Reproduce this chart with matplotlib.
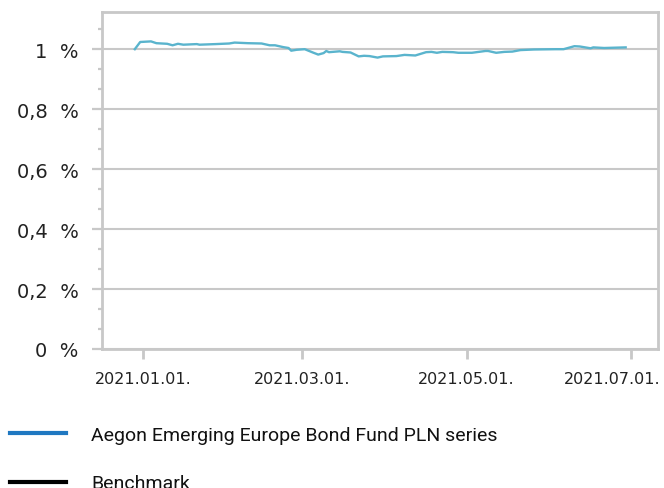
import matplotlib
matplotlib.use('Agg')
import matplotlib.pyplot as plt
import matplotlib.dates as mdates
import matplotlib.transforms as mtransforms
from matplotlib.lines import Line2D
from matplotlib.ticker import FixedLocator, FuncFormatter
import pandas as pd

GRAY = '#c8c8c8'
FUND_COLOR = '#5ab4cd'

DATES = [
    '2020-12-29', '2020-12-31', '2021-01-04', '2021-01-06', '2021-01-10',
    '2021-01-12', '2021-01-14', '2021-01-16', '2021-01-21', '2021-01-22',
    '2021-01-28', '2021-02-02', '2021-02-04', '2021-02-09', '2021-02-14',
    '2021-02-17', '2021-02-19', '2021-02-22', '2021-02-24', '2021-02-25',
    '2021-02-27', '2021-03-02', '2021-03-05', '2021-03-07', '2021-03-09',
    '2021-03-10', '2021-03-11', '2021-03-15', '2021-03-16', '2021-03-19',
    '2021-03-22', '2021-03-24', '2021-03-26', '2021-03-29', '2021-03-31',
    '2021-04-05', '2021-04-08', '2021-04-12', '2021-04-16', '2021-04-18',
    '2021-04-20', '2021-04-22', '2021-04-26', '2021-04-28', '2021-05-03',
    '2021-05-08', '2021-05-09', '2021-05-12', '2021-05-15', '2021-05-18',
    '2021-05-21', '2021-05-26', '2021-06-03', '2021-06-06', '2021-06-10',
    '2021-06-12', '2021-06-16', '2021-06-17', '2021-06-21', '2021-06-29',
]

FUND_VALUES = [
    1.000, 1.024, 1.026, 1.020, 1.018,
    1.013, 1.018, 1.015, 1.017, 1.015,
    1.017, 1.019, 1.022, 1.020, 1.019,
    1.013, 1.013, 1.007, 1.004, 0.995,
    0.998, 1.000, 0.989, 0.982, 0.987,
    0.994, 0.990, 0.993, 0.991, 0.989,
    0.976, 0.978, 0.977, 0.972, 0.976,
    0.977, 0.981, 0.979, 0.990, 0.991,
    0.988, 0.991, 0.990, 0.988, 0.988,
    0.994, 0.994, 0.988, 0.991, 0.992,
    0.997, 0.999, 1.000, 1.000, 1.010,
    1.009, 1.003, 1.006, 1.004, 1.006,
]

X_TICKS = ['2021-01-01', '2021-03-01', '2021-05-01', '2021-07-01']
Y_TICKS = [0, 0.2, 0.4, 0.6, 0.8, 1.0]

LEGEND_LABELS = ['Aegon Emerging Europe Bond Fund PLN series', 'Benchmark']
LEGEND_COLORS = ['#1f78c1', '#000000']


def y_label(v, pos):
    return '{:g}'.format(round(v, 2)).replace('.', ',') + '  %'


fig = plt.figure(figsize=(6.64, 4.89), dpi=100)
ax = fig.add_axes([0.1536, 0.2843, 0.8374, 0.6897])

dates = pd.to_datetime(DATES)
ax.plot(dates, FUND_VALUES, color=FUND_COLOR, linewidth=1.7)

ax.set_ylim(0, 1.125)
ax.set_xlim(pd.Timestamp('2020-12-16 20:00'), pd.Timestamp('2021-07-11'))

ax.yaxis.set_major_locator(FixedLocator(Y_TICKS))
ax.yaxis.set_minor_locator(FixedLocator([i / 15 for i in range(17)]))
ax.yaxis.set_major_formatter(FuncFormatter(y_label))
ax.xaxis.set_major_locator(FixedLocator(mdates.date2num(pd.to_datetime(X_TICKS))))
ax.xaxis.set_major_formatter(mdates.DateFormatter('%Y.%m.%d.'))
ax.xaxis.set_minor_locator(FixedLocator([]))

ax.grid(axis='y', which='major', color=GRAY, linewidth=1.5)
ax.set_axisbelow(True)
for s in ax.spines.values():
    s.set_color(GRAY)
    s.set_linewidth(2.0)

ax.tick_params(axis='y', which='major', length=7, width=1.6, color=GRAY,
               pad=10, labelsize=14, labelcolor='#222222')
ax.tick_params(axis='y', which='minor', length=3, width=1.6, color=GRAY)
ax.tick_params(axis='x', which='major', length=7, width=2.0, color=GRAY,
               pad=9, labelsize=11.5, labelcolor='#222222')

# last date label is pushed left so it stays inside the picture
last = ax.get_xticklabels()[-1]
last.set_transform(last.get_transform() +
                   mtransforms.ScaledTranslation(-0.19, 0, fig.dpi_scale_trans))

handles = [Line2D([], [], color=c, linewidth=3) for c in LEGEND_COLORS]
fig.legend(handles, LEGEND_LABELS, loc='upper left',
           bbox_to_anchor=(10 / 664, 1 - 427 / 489),
           frameon=False, handlelength=2.9, handletextpad=1.28, labelspacing=1.56,
           prop={'family': 'Roboto', 'size': 14}, labelcolor='#111111',
           borderaxespad=0, borderpad=0)

fig.savefig('out.png', dpi=100)
